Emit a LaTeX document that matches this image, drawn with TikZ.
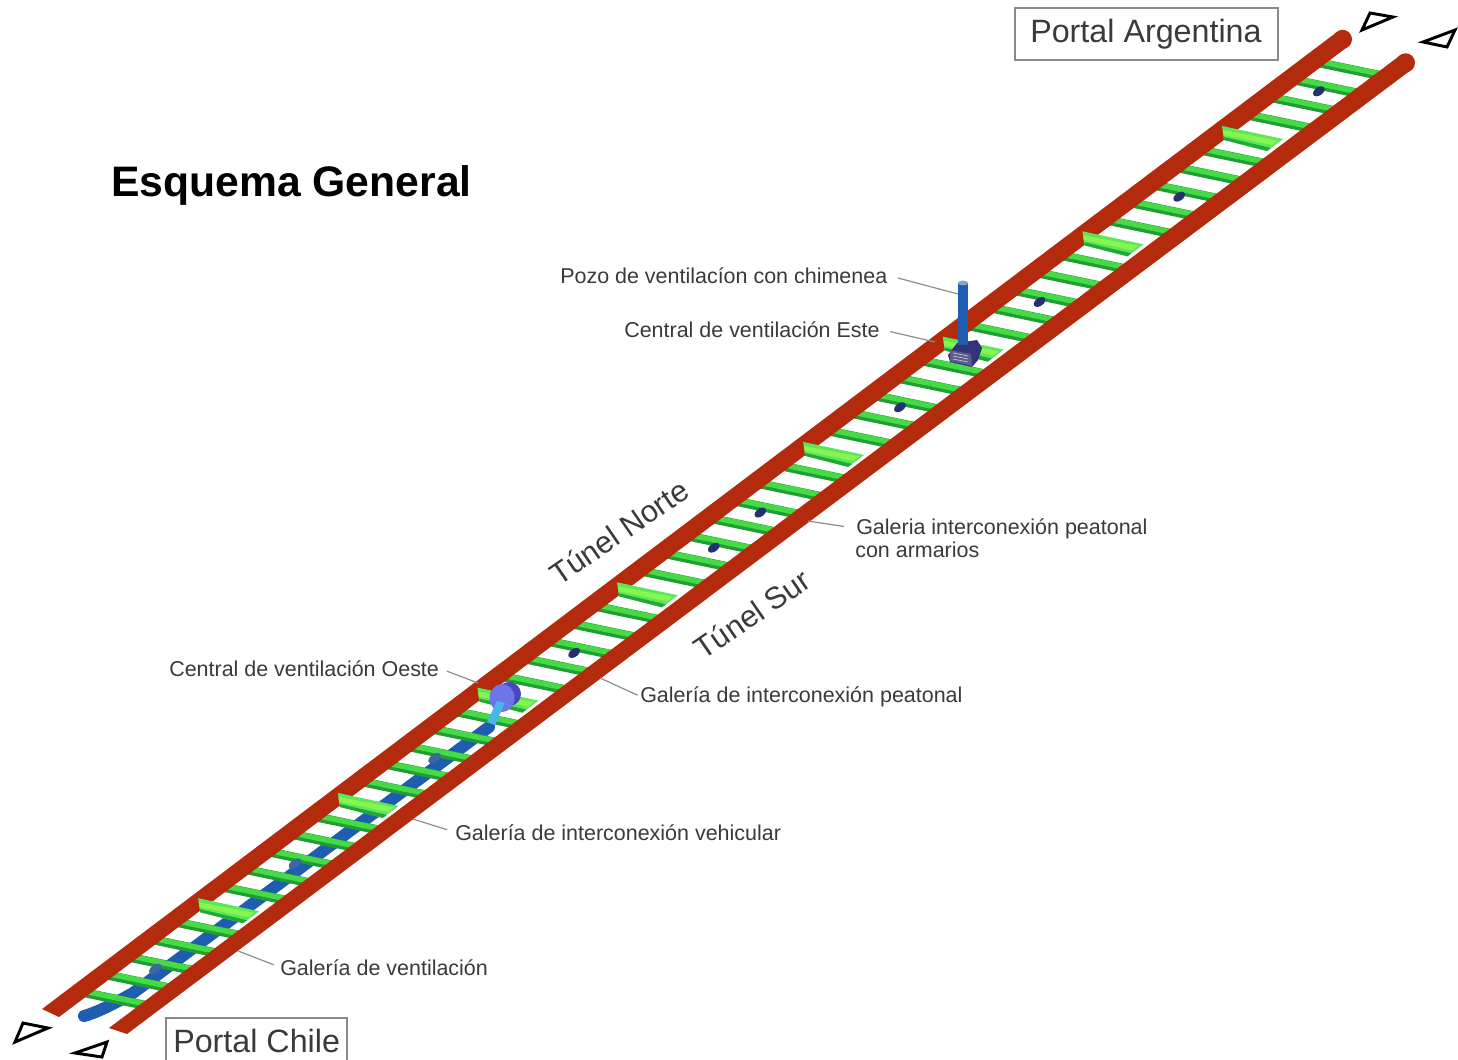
\documentclass[tikz,border=0pt]{standalone}
\usepackage{fontspec}
\setmainfont{Liberation Sans}
\definecolor{tunred}{HTML}{B42A0C}
\definecolor{bardark}{HTML}{1F9E33}
\definecolor{barbright}{HTML}{47DA47}
\definecolor{widebase}{HTML}{5CE65C}
\definecolor{widebright}{HTML}{86F54E}
\definecolor{widedark}{HTML}{22A838}
\definecolor{ventblue}{HTML}{1F5DB0}
\definecolor{dotblue}{HTML}{24306F}
\definecolor{labelgrey}{HTML}{3A3A3A}
\definecolor{leadergrey}{HTML}{8E8E8E}
\definecolor{boxgrey}{HTML}{8A8A8A}
\definecolor{cyanpipe}{HTML}{4AB4EC}
\definecolor{ballfront}{HTML}{6F74E6}
\definecolor{ballback}{HTML}{4848C0}
\definecolor{stationbody}{HTML}{33337A}
\definecolor{stationpanel}{HTML}{5C5C8A}
\tikzset{
  labeltext/.style={text=labelgrey,inner sep=0pt,font=\fontsize{16.1}{18}\selectfont,anchor=base west},
  leader/.style={draw=leadergrey,line width=0.9pt},
  tunnelbody/.style={fill=tunred,draw=none},
  sight/.style={draw=black,line width=2.2pt,line join=miter,fill=white},
  portaltext/.style={text=labelgrey,inner sep=0pt,font=\fontsize{24.2}{26}\selectfont,anchor=base west},
  portalbox/.style={draw=boxgrey,line width=0.8pt,fill=white},
  rotlabel/.style={text=labelgrey,inner sep=0pt,font=\fontsize{23}{26}\selectfont,rotate=34.5}
}
\begin{document}
\begin{tikzpicture}[x=0.75pt,y=-0.75pt]
\useasboundingbox (0,0) rectangle (1458,1059);
\fill[white] (0,0) rectangle (1458,1059);

% ventilation gallery (below the cross passages)
\draw[ventblue,line width=9pt,line cap=round,line join=round]
  (84,1016) .. controls (95,1013) and (110,1006) .. (133,993) -- (489,727);

% cross passages
\foreach \i in {-4,-3,-2,-1,1,2,3,4,5,7,8,9,10,11,13,14,15,16,17,19,20,21,22,23,24,25,27,28,29,30,31,33,34,35,36,37,39,40,41,42,43,45,46,47,48,49}{
  \begin{scope}[shift={({1250-23.27*\i},{138+17.55*\i})}]
    \draw[bardark,line width=6.8pt] (-36,-7.5) -- (36,7.5);
    \draw[barbright,line width=4pt] (-36,-9) -- (36,6);
  \end{scope}
}
% pedestrian galleries with cabinets: small dark marks
\foreach \i in {-3,3,9,15,21,23,29}{
  \begin{scope}[shift={({1249-23.27*\i},{144+17.55*\i})}]
    \fill[dotblue,rotate=35] (0,0) ellipse (6.5 and 4);
  \end{scope}
}
\foreach \i in {35,41,47}{
  \begin{scope}[shift={({1249-23.27*\i},{144+17.55*\i})}]
    \fill[ventblue!70!gray,rotate=35] (0,0) ellipse (7 and 4);
  \end{scope}
}

% tunnels
\coordinate (nA) at (42,1009);
\coordinate (nB) at (59,1017);
\coordinate (nC) at (1348,46.5);
\coordinate (nD) at (1337,32);
\coordinate (nEnd) at (1342.5,39.3);
\coordinate (sA) at (109,1028);
\coordinate (sB) at (127,1034);
\coordinate (sC) at (1411,70);
\coordinate (sD) at (1400,55.5);
\coordinate (sEnd) at (1405.5,62.8);
\fill[tunnelbody] (nA) -- (nB) -- (nC) -- (nD) -- cycle;
\fill[tunnelbody] (nEnd) circle (9.5);
\fill[tunnelbody] (sA) -- (sB) -- (sC) -- (sD) -- cycle;
\fill[tunnelbody] (sEnd) circle (9.5);

% vehicular cross galleries (wide)
\foreach \i in {0,6,12,18,26,32,38,44}{
  \begin{scope}[shift={({1250-23.27*\i},{138+17.55*\i})}]
    \fill[widebase] (-28,-12) -- (33,1) -- (17,13) -- (-26,2) -- cycle;
    \fill[widebright] (-27,-8) -- (28,2.5) -- (22,7) -- (-26.5,-3) -- cycle;
    \fill[widedark] (-26,2) -- (17,13) -- (21,10) -- (-26,-1) -- cycle;
  \end{scope}
}

% west ventilation station
\fill[ballback] (509,694) circle (12);
\fill[ballfront] (502,698) ellipse (12.5 and 14);
\fill[cyanpipe] (487,722) -- (495,725) -- (505,703) -- (497,701) -- cycle;

% east ventilation station
\fill[stationbody] (948,355) -- (957,343) -- (977,340) -- (982,348) -- (978,360) -- (972,367) -- (950,362) -- cycle;
\fill[stationpanel] (950,350) -- (971,354) -- (972,366) -- (950,361) -- cycle;
\foreach \y in {353,356,359}{\draw[gray!40,line width=0.5pt] (953,\y) -- (968,\y+3);}
\fill[ventblue] (958,283) rectangle (968,345);
\fill[ventblue!55!white] (963,283) ellipse (5 and 2.4);

% sight triangles
\draw[sight] (1362,30) -- (1370,13) -- (1393,17) -- cycle;
\draw[sight] (1423,42) -- (1455,30) -- (1447,47) -- cycle;
\draw[sight] (15,1042) -- (23,1023) -- (48,1028) -- cycle;
\draw[sight] (75,1053) -- (107,1042) -- (102,1057) -- cycle;

% portal boxes
\draw[portalbox] (1015,8) rectangle (1278,60);
\draw[portalbox] (166,1018) rectangle (347,1070);
\node[portaltext] (portalAr) at (1030,43) {Portal Argentina};
\node[portaltext] (portalCh) at (173,1052) {Portal Chile};

% title
\node[inner sep=0pt,anchor=base west,font=\fontsize{32}{36}\selectfont\bfseries,text=black] (titulo) at (111,197) {Esquema General};

% tunnel names
\node[rotlabel] (tnorte) at (619,532) {Túnel Norte};
\node[rotlabel] (tsur) at (752,614) {Túnel Sur};

% labels
\node[labeltext] (lPozo) at (560,283) {Pozo de ventilacíon con chimenea};
\node[labeltext] (lEste) at (624,337) {Central de ventilación Este};
\node[labeltext] (lArmA) at (856,534) {Galeria interconexión peatonal};
\node[labeltext] (lArmB) at (855,557) {con armarios};
\node[labeltext] (lOeste) at (169,676) {Central de ventilación Oeste};
\node[labeltext] (lPeat) at (640,702) {Galería de interconexión peatonal};
\node[labeltext] (lVehi) at (455,840) {Galería de interconexión vehicular};
\node[labeltext] (lVent) at (280,975) {Galería de ventilación};

% leader ends
\coordinate (ePozo) at (958,294);
\coordinate (eEste) at (935,342);
\coordinate (eArm) at (808,521);
\coordinate (eOeste) at (478,683);
\coordinate (ePeat) at (600,678);
\coordinate (eVehi) at (413,819);
\coordinate (eVent) at (238,951);
\draw[leader,shorten <=8pt] (lPozo.east) -- (ePozo);
\draw[leader,shorten <=8pt] (lEste.east) -- (eEste);
\draw[leader,shorten <=9pt] (lArmA.west) -- (eArm);
\draw[leader,shorten <=6pt] (lOeste.east) -- (eOeste);
\draw[leader,shorten <=2pt] (lPeat.west) -- (ePeat);
\draw[leader,shorten <=6pt] (lVehi.west) -- (eVehi);
\draw[leader,shorten <=5pt] (lVent.west) -- (eVent);
\end{tikzpicture}
\end{document}
